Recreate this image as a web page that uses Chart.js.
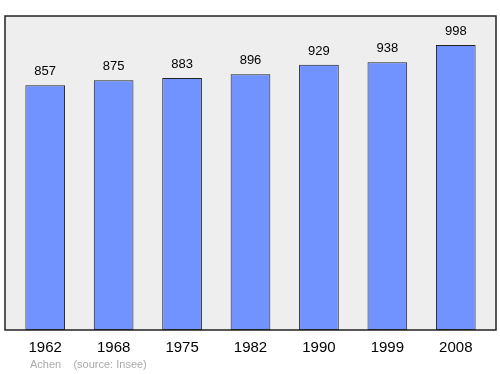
<!DOCTYPE html>
<html>
<head>
<meta charset="utf-8">
<script src="https://cdn.jsdelivr.net/npm/chart.js@4"></script>
<style>
  body { margin: 0; background: #fff; }
  #wrap { width: 500px; height: 374px; }
</style>
</head>
<body>
<div id="wrap"><canvas id="myChart" width="500" height="374"></canvas></div>
<script>
var years = ['1962', '1968', '1975', '1982', '1990', '1999', '2008'];
var population = [857, 875, 883, 896, 929, 938, 998];
var footerText = 'Achen    (source: Insee)';

// gray box behind the bars
var boxPlugin = {
    id: 'box',
    beforeDatasetsDraw: function (chart) {
        var a = chart.chartArea;
        var c = chart.ctx;
        c.save();
        c.fillStyle = '#eeeeee';
        c.strokeStyle = '#222';
        c.lineWidth = 1.5;
        c.fillRect(a.left - 6, a.top, a.right - a.left + 12, a.bottom - a.top);
        c.strokeRect(a.left - 6, a.top, a.right - a.left + 12, a.bottom - a.top);
        c.restore();
    },
    afterDatasetsDraw: function (chart) {
        var c = chart.ctx;
        var meta = chart.getDatasetMeta(0);
        c.save();
        c.fillStyle = '#000';
        c.font = '13px "Liberation Sans", Arial, sans-serif';
        c.textAlign = 'center';
        c.textBaseline = 'bottom';
        meta.data.forEach(function (bar, i) {
            c.fillText(population[i], bar.x, bar.y - 7);
        });
        c.fillStyle = '#aaaaaa';
        c.font = '11px "Liberation Sans", Arial, sans-serif';
        c.textAlign = 'left';
        c.textBaseline = 'middle';
        c.fillText(footerText, 30, 365);
        c.restore();
    }
};

var ctx = document.getElementById('myChart').getContext('2d');
var chart = new Chart(ctx, {
    type: 'bar',
    data: {
        labels: years,
        datasets: [{
            data: population,
            backgroundColor: 'rgb(112, 147, 255)',
            borderColor: '#222',
            borderWidth: 1,
            borderSkipped: false,
            barPercentage: 0.58,
            categoryPercentage: 1
        }]
    },
    options: {
        responsive: false,
        animation: false,
        layout: { padding: { left: 11, right: 10, top: 16, bottom: 0 } },
        plugins: { legend: { display: false }, tooltip: { enabled: false } },
        scales: {
            y: { display: false, min: 0, max: 1100 },
            x: {
                grid: { display: false },
                border: { display: false },
                ticks: {
                    color: '#000',
                    padding: 1,
                    font: { size: 15, family: '"Liberation Sans", Arial, sans-serif' }
                },
                afterFit: function (scale) { scale.height = 44; }
            }
        }
    },
    plugins: [boxPlugin]
});
</script>
</body>
</html>
